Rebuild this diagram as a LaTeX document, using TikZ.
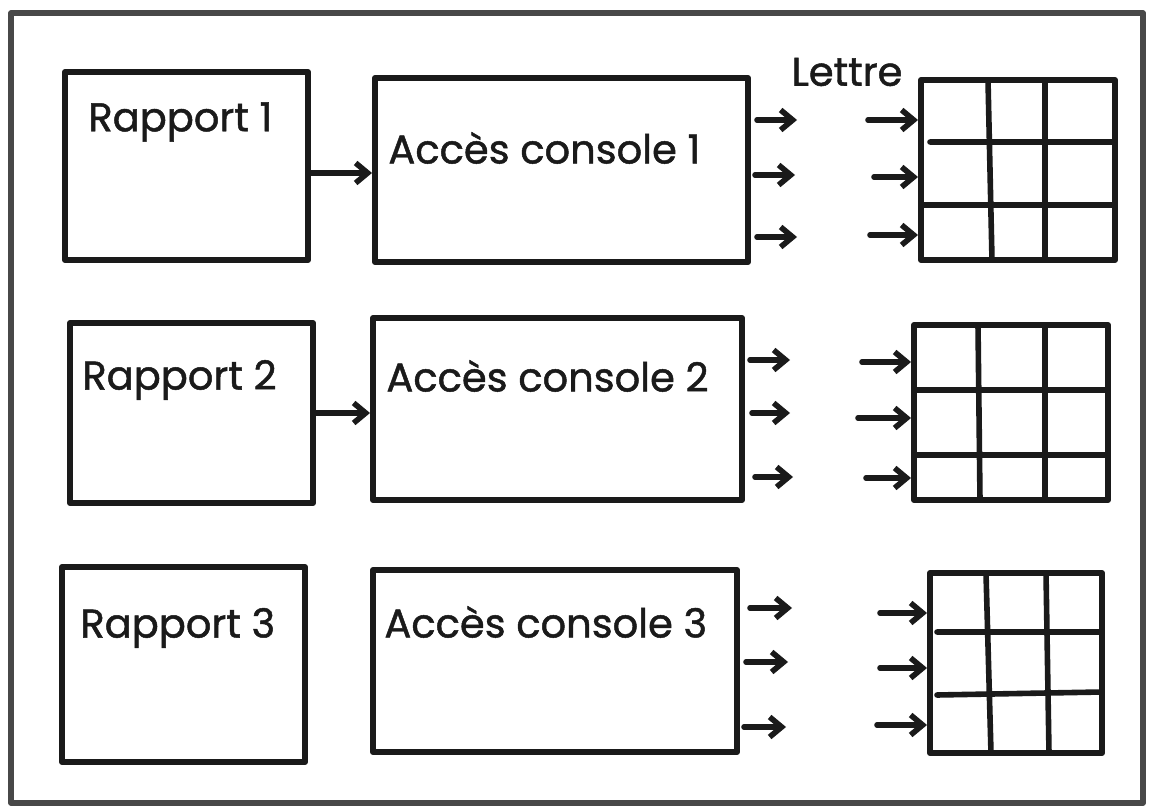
\documentclass[tikz,border=0pt]{standalone}
\usepackage{fontspec}
\setmainfont{Poppins}[FakeBold=1.2]
\usetikzlibrary{fit,arrows.meta}
\definecolor{ink}{HTML}{1A1A1A}
\tikzset{
  box/.style={draw=ink, line width=3pt, line join=round, line cap=round, inner sep=0pt},
  lbl/.style={text=ink, anchor=west, inner sep=0pt, font=\fontsize{20}{24}\selectfont},
  gridline/.style={draw=ink, line width=2.8pt, line cap=round},
  arr/.style={draw=ink, line width=2.8pt, line cap=round, -{Straight Barb[length=6pt,width=10pt,line width=2.8pt]}},
  frame/.style={draw=ink!80, line width=2.6pt, line join=round, inner sep=0pt}
}
\begin{document}
\begin{tikzpicture}[x=0.5pt,y=-0.5pt]
\useasboundingbox (0,0) rectangle (1152,812);
\fill[white] (0,0) rectangle (1152,812);
\node[frame, fit={(11,13) (1143,803)}] (frame) {};

% Row 1
\node[box, fit={(65,72) (308,260)}] (r1) {};
\node[lbl] (r1t) at (88,122) {Rapport 1};
\node[box, fit={(375,78) (748,262)}] (c1) {};
\node[lbl] (c1t) at (388,148) {Accès console 1};
\draw[arr] (r1.east |- 0,173) -- (c1.west |- 0,173);
\node[lbl, anchor=center] (lettre) at (847,72) {Lettre};
\node[box, fit={(921,80) (1115,260)}] (g1) {};
\draw[gridline] (988,80) -- (992,260) (1045,80) -- (1045,260)
  (930,142) -- (1115,142) (921,205) -- (1115,205);
\coordinate (a11) at (757,120); \coordinate (a12) at (755,175); \coordinate (a13) at (757,237);
\draw[arr] (a11) -- ++(40,0);
\draw[arr] (a12) -- ++(40,0);
\draw[arr] (a13) -- ++(40,0);
\coordinate (b11) at (868,120); \coordinate (b12) at (874,177); \coordinate (b13) at (870,235);
\draw[arr] (b11) -- (b11 -| g1.west);
\draw[arr] (b12) -- (b12 -| g1.west);
\draw[arr] (b13) -- (b13 -| g1.west);

% Row 2
\node[box, fit={(70,323) (313,503)}] (r2) {};
\node[lbl] (r2t) at (82,380) {Rapport 2};
\node[box, fit={(373,318) (742,500)}] (c2) {};
\node[lbl] (c2t) at (386,376) {Accès console 2};
\draw[arr] (r2.east |- 0,413) -- (c2.west |- 0,413);
\node[box, fit={(914,325) (1108,500)}] (g2) {};
\draw[gridline] (978,325) -- (980,500) (1045,325) -- (1045,500)
  (914,390) -- (1108,390) (914,455) -- (1108,455);
\coordinate (a21) at (750,360); \coordinate (a22) at (752,413); \coordinate (a23) at (755,477);
\draw[arr] (a21) -- ++(40,0);
\draw[arr] (a22) -- ++(38,0);
\draw[arr] (a23) -- ++(38,0);
\coordinate (b21) at (862,362); \coordinate (b22) at (858,418); \coordinate (b23) at (866,478);
\draw[arr] (b21) -- (b21 -| g2.west);
\draw[arr] (b22) -- (b22 -| g2.west);
\draw[arr] (b23) -- (b23 -| g2.west);

% Row 3
\node[box, fit={(62,567) (305,762)}] (r3) {};
\node[lbl] (r3t) at (80,628) {Rapport 3};
\node[box, fit={(373,570) (737,752)}] (c3) {};
\node[lbl] (c3t) at (384,622) {Accès console 3};
\node[box, fit={(930,573) (1102,753)}] (g3) {};
\draw[gridline] (986,573) -- (991,753) (1046,573) -- (1049,753)
  (937,632) -- (1102,632) (937,695) -- (1102,692);
\coordinate (a31) at (750,608); \coordinate (a32) at (746,662); \coordinate (a33) at (744,727);
\draw[arr] (a31) -- ++(42,0);
\draw[arr] (a32) -- ++(42,0);
\draw[arr] (a33) -- ++(42,0);
\coordinate (b31) at (880,613); \coordinate (b32) at (880,668); \coordinate (b33) at (877,725);
\draw[arr] (b31) -- (b31 -| g3.west);
\draw[arr] (b32) -- (b32 -| g3.west);
\draw[arr] (b33) -- (b33 -| g3.west);
\end{tikzpicture}
\end{document}
